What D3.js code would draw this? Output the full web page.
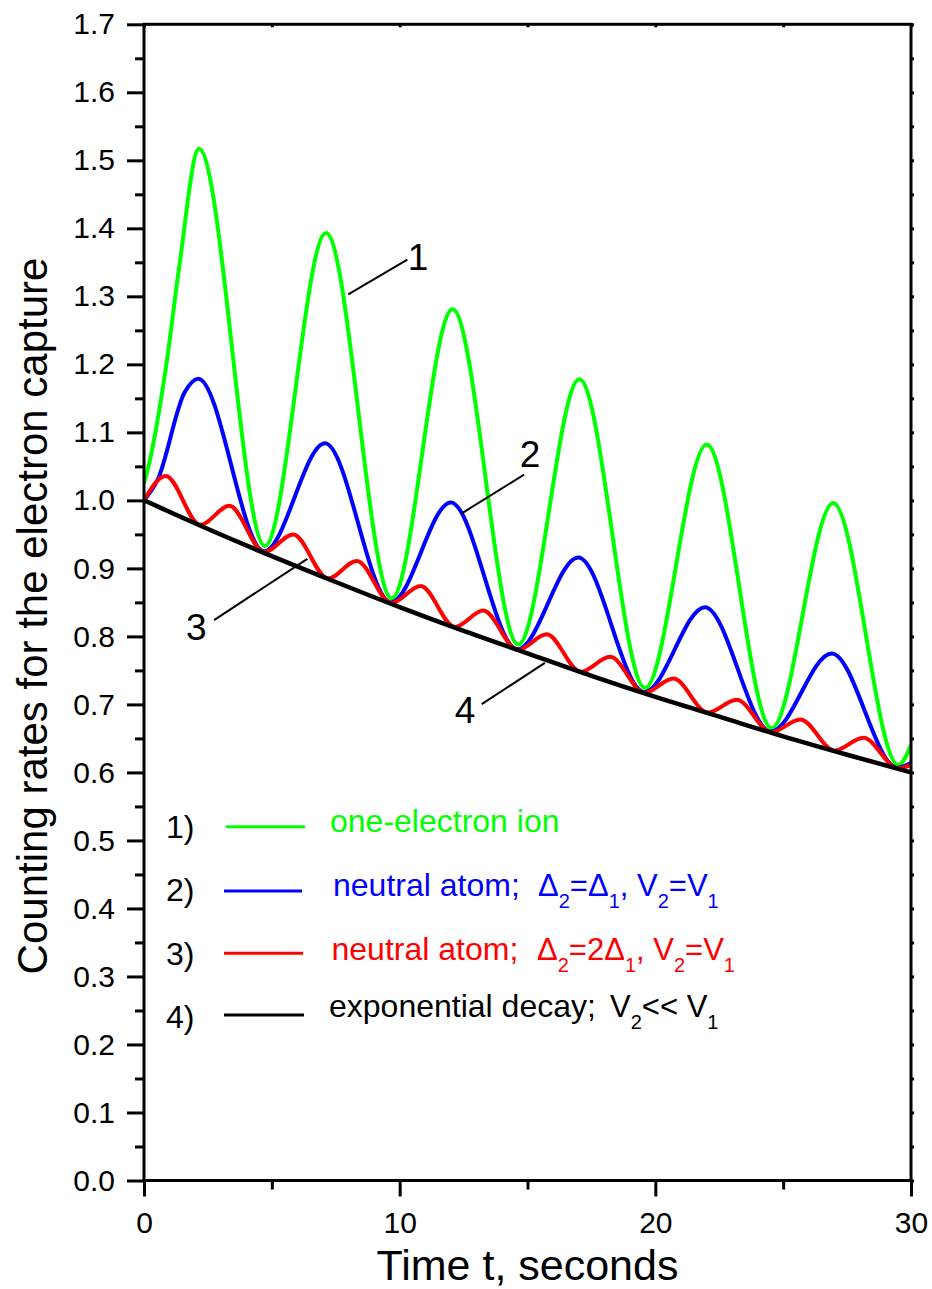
<!DOCTYPE html>
<html>
<head>
<meta charset="utf-8">
<script src="https://cdn.jsdelivr.net/npm/d3@7"></script>
<style>
  html, body { margin: 0; padding: 0; background: #fff; }
  svg { display: block; }
  text { font-family: "Liberation Sans", Arial, sans-serif; }
</style>
</head>
<body>
<svg id="chart" width="932" height="1289"></svg>
<script>
// ---------------- data (time in s, counting rate) ----------------
const green = [
  [0,1.025],[0.17,1.049],[0.86,1.196],[1.38,1.344],[2.15,1.517],
  [4.73,0.933],[7.12,1.393],[9.69,0.856],[12.07,1.281],[14.64,0.788],
  [17.03,1.178],[19.60,0.724],[22.01,1.082],[24.55,0.665],[26.96,0.996],
  [29.50,0.611],[30,0.640]
];
const blue = [
  [0,1.0],[0.53,1.030],[1.59,1.159],[2.12,1.179],
  [4.70,0.925],[7.08,1.084],[9.66,0.850],[12.00,0.997],[14.61,0.781],
  [16.99,0.916],[19.57,0.718],[21.94,0.843],[24.52,0.660],[26.90,0.775],
  [29.47,0.607],[30,0.614]
];
const red = [
  [0,1.0],[0.85,1.036],[2.20,0.964],[3.34,0.992],[4.70,0.924],[5.84,0.950],
  [7.20,0.885],[8.32,0.911],[9.68,0.849],[10.82,0.874],[12.16,0.814],[13.27,0.838],
  [14.62,0.780],[15.75,0.803],[17.08,0.748],[18.23,0.770],[19.58,0.717],[20.70,0.738],
  [22.06,0.688],[23.18,0.707],[24.54,0.659],[25.66,0.678],[27.02,0.632],[28.13,0.651],
  [29.50,0.606],[30,0.611]
];
const black = [
  [0,1.000],[2.5,0.958],[5,0.918],[7.5,0.880],[10,0.843],[12.5,0.808],[15,0.775],
  [17.5,0.742],[20,0.711],[22.5,0.682],[25,0.653],[27.5,0.626],[30,0.600]
];

const xMajor = [0, 10, 20, 30];
const xMinor = [5, 15, 25];
const yMajor = d3.range(0, 18).map(i => i / 10);
const yMinor = d3.range(0, 17).map(i => i / 10 + 0.05);

const xTitle = "Time t, seconds";
const yTitle = "Counting rates for the electron capture";

// curve labels: [label, line start t, v, line end t, v, label t, label baseline v]
const annotations = [
  ["1", 7.99, 1.303, 10.30, 1.354, 10.72, 1.339],
  ["2", 12.43, 0.981, 14.87, 1.038, 15.10, 1.049],
  ["3", 2.74, 0.824, 6.39, 0.914, 2.05, 0.795],
  ["4", 13.21, 0.7005, 15.68, 0.761, 12.56, 0.6726]
];

const legendNums = ["1)", "2)", "3)", "4)"];
const legendColors = ["#00ff00", "#0000ff", "#ff0000", "#000000"];
const legendMain = ["one-electron ion", "neutral atom;", "neutral atom;", "exponential decay;"];
// formula pieces: [text, isSubscript]
const legendFormula = [
  [],
  [["Δ",0],["2",1],["=Δ",0],["1",1],[", V",0],["2",1],["=V",0],["1",1]],
  [["Δ",0],["2",1],["=2Δ",0],["1",1],[", V",0],["2",1],["=V",0],["1",1]],
  [["V",0],["2",1],["<< V",0],["1",1]]
];

// ---------------- layout ----------------
const svg = d3.select("#chart");
const L = 144, R = 911, T = 24.3, B = 1180.5;
const x = d3.scaleLinear().domain([0, 30]).range([L, R]);
const y = d3.scaleLinear().domain([0, 1.7]).range([B, T]);

svg.append("rect").attr("width", 932).attr("height", 1289).attr("fill", "#fff");

svg.append("clipPath").attr("id", "clip")
  .append("rect").attr("x", L).attr("y", T).attr("width", R - L).attr("height", B - T);

// curves
const line = d3.line().x(d => x(d[0])).y(d => y(d[1])).curve(d3.curveMonotoneX);
const series = [
  [green, "#00ff00", 4],
  [blue, "#0000ff", 4],
  [red, "#ff0000", 4],
  [black, "#000000", 4.5]
];
const g = svg.append("g").attr("clip-path", "url(#clip)");
series.forEach(([data, col, w]) => {
  g.append("path").datum(data).attr("d", line)
    .attr("fill", "none").attr("stroke", col).attr("stroke-width", w)
    .attr("stroke-linejoin", "round");
});

// axes
function styleAxis(sel) {
  sel.select(".domain").remove();
  sel.selectAll(".tick line").attr("stroke", "#000").attr("stroke-width", 3);
  sel.selectAll(".tick text").attr("fill", "#000").attr("font-size", 30)
    .attr("font-family", "'Liberation Sans', Arial, sans-serif");
}
svg.append("g").attr("transform", `translate(${L},0)`)
  .call(d3.axisLeft(y).tickValues(yMajor).tickSize(17).tickPadding(12).tickFormat(d3.format(".1f")))
  .call(styleAxis);
svg.append("g").attr("transform", `translate(${L},0)`)
  .call(d3.axisLeft(y).tickValues(yMinor).tickSize(9).tickFormat(""))
  .call(styleAxis);
svg.append("g").attr("transform", `translate(0,${B})`)
  .call(d3.axisBottom(x).tickValues(xMajor).tickSize(16).tickPadding(15.5).tickFormat(d3.format("d")))
  .call(styleAxis);
svg.append("g").attr("transform", `translate(0,${B})`)
  .call(d3.axisBottom(x).tickValues(xMinor).tickSize(9).tickFormat(""))
  .call(styleAxis);
svg.append("g").attr("transform", `translate(0,${T})`)
  .call(d3.axisBottom(x).tickValues(xMajor.concat(xMinor)).tickSize(3).tickFormat(""))
  .call(styleAxis);
svg.append("g").attr("transform", `translate(${R},0)`)
  .call(d3.axisRight(y).tickValues(yMajor.concat(yMinor)).tickSize(3).tickFormat(""))
  .call(styleAxis);

// frame
svg.append("rect").attr("x", L).attr("y", T).attr("width", R - L).attr("height", B - T)
  .attr("fill", "none").attr("stroke", "#000").attr("stroke-width", 3);

// axis titles
svg.append("text").attr("x", (L + R) / 2).attr("y", 1280).attr("text-anchor", "middle")
  .attr("font-size", 43).text(xTitle);
svg.append("text").attr("transform", "translate(47,616) rotate(-90)").attr("text-anchor", "middle")
  .attr("font-size", 42).text(yTitle);

// annotations
annotations.forEach(([lab, t1, v1, t2, v2, tl, vl]) => {
  svg.append("line").attr("x1", x(t1)).attr("y1", y(v1)).attr("x2", x(t2)).attr("y2", y(v2))
    .attr("stroke", "#000").attr("stroke-width", 2);
  svg.append("text").attr("x", x(tl)).attr("y", y(vl)).attr("text-anchor", "middle")
    .attr("font-size", 37).text(lab);
});

// legend
const numBase = [838, 901, 965, 1028];
const textBase = [832, 896, 960, 1017];
const lineY = [826.7, 891, 953.3, 1015];
const lineX = [[226, 305], [224, 302], [224, 303], [224, 304]];
const mainX = [330, 333, 331.5, 329];
const formX = [0, 538, 537, 610];
legendNums.forEach((n, i) => {
  svg.append("text").attr("x", 166).attr("y", numBase[i]).attr("font-size", 32).text(n);
  svg.append("line").attr("x1", lineX[i][0]).attr("x2", lineX[i][1])
    .attr("y1", lineY[i]).attr("y2", lineY[i])
    .attr("stroke", legendColors[i]).attr("stroke-width", 3);
  svg.append("text").attr("x", mainX[i]).attr("y", textBase[i]).attr("font-size", 32)
    .attr("fill", legendColors[i]).text(legendMain[i]);
  if (legendFormula[i].length) {
    const t = svg.append("text").attr("x", formX[i]).attr("y", textBase[i])
      .attr("font-size", 31).attr("fill", legendColors[i]);
    let prevSub = 0;
    legendFormula[i].forEach(([s, sub]) => {
      const dy = sub && !prevSub ? 12 : (!sub && prevSub ? -12 : 0);
      t.append("tspan").attr("dy", dy).attr("font-size", sub ? 20 : 31)
        .style("white-space", "pre").text(s);
      prevSub = sub;
    });
  }
});
</script>
</body>
</html>
